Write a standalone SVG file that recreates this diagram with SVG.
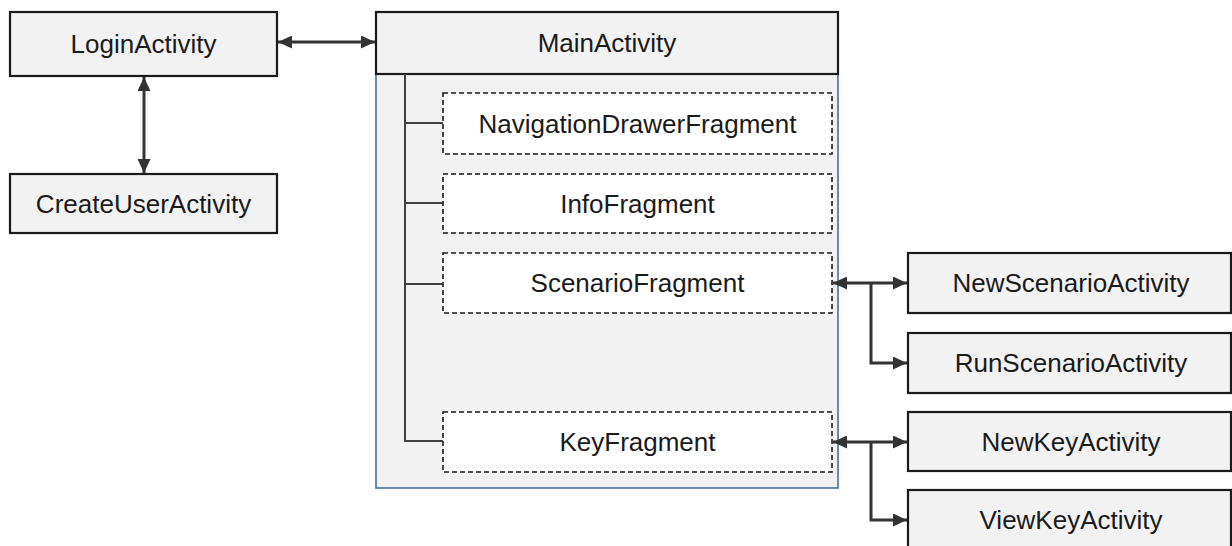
<svg xmlns="http://www.w3.org/2000/svg" width="1232" height="546" viewBox="0 0 1232 546">
<style>
.act{fill:#f2f2f2;stroke:#1a1a1a;stroke-width:2.2}
.frag{fill:#ffffff;stroke:#1a1a1a;stroke-width:1.6;stroke-dasharray:5,3}
.cont{fill:#f2f2f2;stroke:#41719c;stroke-width:1.6}
.lbl{font-family:"Liberation Sans",Arial,sans-serif;font-size:26px;fill:#1a1a1a;text-anchor:middle}
.tree{fill:none;stroke:#404040;stroke-width:2}
.arr{fill:none;stroke:#333333;stroke-width:3}
</style>
<defs>
<marker id="ah" viewBox="0 0 14 13" refX="14" refY="6.5" markerWidth="14" markerHeight="13" markerUnits="userSpaceOnUse" orient="auto-start-reverse">
<path d="M0,0 L14,6.5 L0,13 Z" fill="#333333"/>
</marker>
</defs>
<g id="main-container">
<rect class="cont" x="376" y="74" width="462" height="414"/>
</g>
<g id="LoginActivity">
<rect class="act" x="10" y="12" width="267" height="64"/>
<text class="lbl" x="143.5" y="53">LoginActivity</text>
</g>
<g id="CreateUserActivity">
<rect class="act" x="10" y="174" width="267" height="59"/>
<text class="lbl" x="143.5" y="213">CreateUserActivity</text>
</g>
<g id="MainActivity">
<rect class="act" x="376" y="12" width="462" height="62"/>
<text class="lbl" x="607" y="52">MainActivity</text>
</g>
<g id="NavigationDrawerFragment">
<rect class="frag" x="443" y="93" width="389" height="61"/>
<text class="lbl" x="637.5" y="133">NavigationDrawerFragment</text>
</g>
<g id="InfoFragment">
<rect class="frag" x="443" y="174" width="389" height="59"/>
<text class="lbl" x="637.5" y="213">InfoFragment</text>
</g>
<g id="ScenarioFragment">
<rect class="frag" x="443" y="253" width="389" height="60"/>
<text class="lbl" x="637.5" y="292">ScenarioFragment</text>
</g>
<g id="KeyFragment">
<rect class="frag" x="443" y="412" width="389" height="60"/>
<text class="lbl" x="637.5" y="451">KeyFragment</text>
</g>
<g id="NewScenarioActivity">
<rect class="act" x="908" y="253" width="323" height="60"/>
<text class="lbl" x="1071" y="292">NewScenarioActivity</text>
</g>
<g id="RunScenarioActivity">
<rect class="act" x="908" y="333" width="323" height="60"/>
<text class="lbl" x="1071" y="372">RunScenarioActivity</text>
</g>
<g id="NewKeyActivity">
<rect class="act" x="908" y="412" width="323" height="59"/>
<text class="lbl" x="1071" y="451">NewKeyActivity</text>
</g>
<g id="ViewKeyActivity">
<rect class="act" x="908" y="490" width="323" height="64"/>
<text class="lbl" x="1071" y="529">ViewKeyActivity</text>
</g>
<g id="connectors">
<path class="tree" d="M405,74 V441 H443 M405,123 H443 M405,203 H443 M405,284 H443"/>
<line class="arr" x1="278" y1="42" x2="375" y2="42" marker-start="url(#ah)" marker-end="url(#ah)"/>
<line class="arr" x1="144" y1="77" x2="144" y2="173" marker-start="url(#ah)" marker-end="url(#ah)"/>
<line class="arr" x1="833" y1="283" x2="907" y2="283" marker-start="url(#ah)" marker-end="url(#ah)"/>
<path class="arr" d="M871,283 V363 H907" marker-end="url(#ah)"/>
<line class="arr" x1="833" y1="442" x2="907" y2="442" marker-start="url(#ah)" marker-end="url(#ah)"/>
<path class="arr" d="M871,442 V520 H907" marker-end="url(#ah)"/>
</g>
</svg>
